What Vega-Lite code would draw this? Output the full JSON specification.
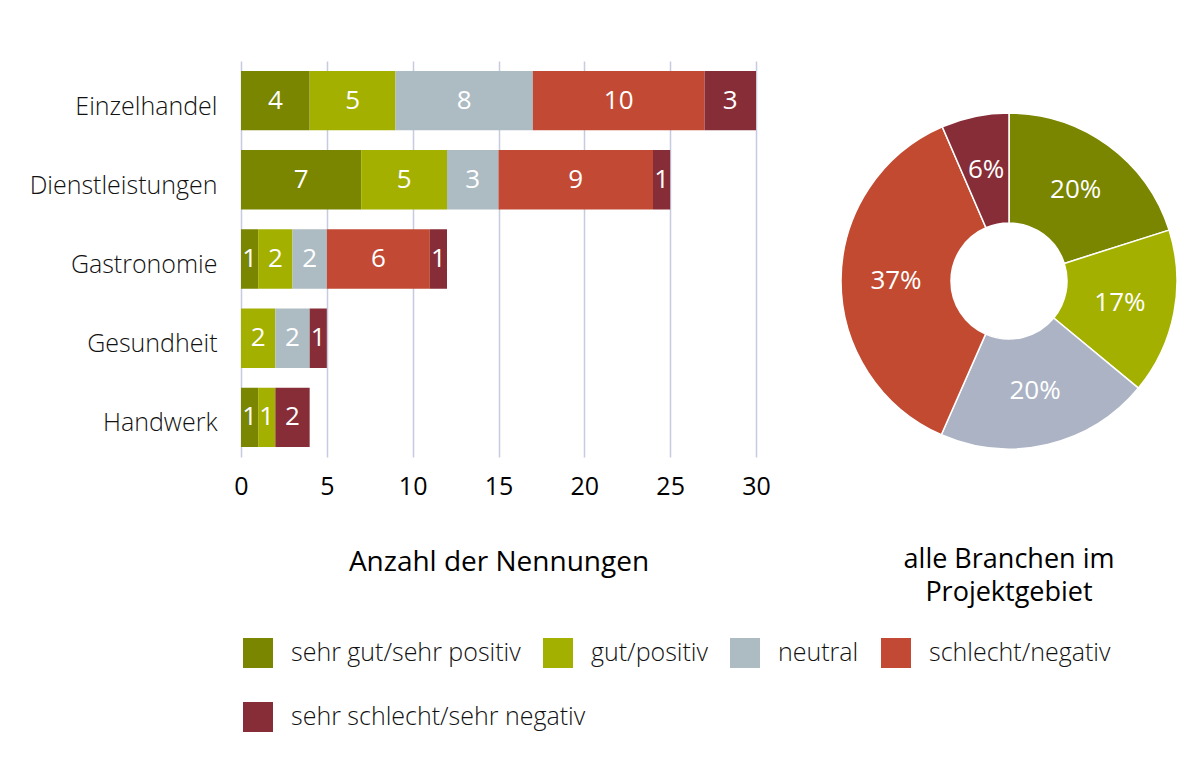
{
  "$schema": "https://vega.github.io/schema/vega-lite/v6.json",
  "padding": {"left": 25, "top": 61, "right": 0, "bottom": 0},
  "background": "white",
  "config": {
    "font": "Open Sans",
    "view": {"stroke": null},
    "legend": {"padding": 0}
  },
  "datasets": {
    "bars": [
      {"branche": "Einzelhandel", "kategorie": "sehr gut/sehr positiv", "k": 1, "n": 4},
      {"branche": "Einzelhandel", "kategorie": "gut/positiv", "k": 2, "n": 5},
      {"branche": "Einzelhandel", "kategorie": "neutral", "k": 3, "n": 8},
      {"branche": "Einzelhandel", "kategorie": "schlecht/negativ", "k": 4, "n": 10},
      {"branche": "Einzelhandel", "kategorie": "sehr schlecht/sehr negativ", "k": 5, "n": 3},
      {"branche": "Dienstleistungen", "kategorie": "sehr gut/sehr positiv", "k": 1, "n": 7},
      {"branche": "Dienstleistungen", "kategorie": "gut/positiv", "k": 2, "n": 5},
      {"branche": "Dienstleistungen", "kategorie": "neutral", "k": 3, "n": 3},
      {"branche": "Dienstleistungen", "kategorie": "schlecht/negativ", "k": 4, "n": 9},
      {"branche": "Dienstleistungen", "kategorie": "sehr schlecht/sehr negativ", "k": 5, "n": 1},
      {"branche": "Gastronomie", "kategorie": "sehr gut/sehr positiv", "k": 1, "n": 1},
      {"branche": "Gastronomie", "kategorie": "gut/positiv", "k": 2, "n": 2},
      {"branche": "Gastronomie", "kategorie": "neutral", "k": 3, "n": 2},
      {"branche": "Gastronomie", "kategorie": "schlecht/negativ", "k": 4, "n": 6},
      {"branche": "Gastronomie", "kategorie": "sehr schlecht/sehr negativ", "k": 5, "n": 1},
      {"branche": "Gesundheit", "kategorie": "gut/positiv", "k": 2, "n": 2},
      {"branche": "Gesundheit", "kategorie": "neutral", "k": 3, "n": 2},
      {"branche": "Gesundheit", "kategorie": "sehr schlecht/sehr negativ", "k": 5, "n": 1},
      {"branche": "Handwerk", "kategorie": "sehr gut/sehr positiv", "k": 1, "n": 1},
      {"branche": "Handwerk", "kategorie": "gut/positiv", "k": 2, "n": 1},
      {"branche": "Handwerk", "kategorie": "sehr schlecht/sehr negativ", "k": 5, "n": 2}
    ],
    "pie": [
      {"kat": "sehr gut/sehr positiv", "k": 1, "anteil": 20.1, "label": "20%"},
      {"kat": "gut/positiv", "k": 2, "anteil": 15.9, "label": "17%"},
      {"kat": "neutral", "k": 3, "anteil": 20.6, "label": "20%"},
      {"kat": "schlecht/negativ", "k": 4, "anteil": 36.9, "label": "37%"},
      {"kat": "sehr schlecht/sehr negativ", "k": 5, "anteil": 6.5, "label": "6%"}
    ]
  },
  "spacing": 67,
  "resolve": {"scale": {"color": "shared", "fill": "shared"}, "legend": {"color": "shared", "fill": "shared"}},
  "hconcat": [
    {
      "width": 515,
      "height": 396,
      "data": {"name": "bars"},
      "encoding": {
        "y": {
          "field": "branche",
          "type": "nominal",
          "sort": ["Einzelhandel", "Dienstleistungen", "Gastronomie", "Gesundheit", "Handwerk"],
          "scale": {"paddingInner": 0.25, "paddingOuter": 0.125},
          "axis": {
            "title": null,
            "ticks": false,
            "domain": false,
            "labelFontSize": 25,
            "labelFontWeight": 300,
            "labelColor": "#111111",
            "labelPadding": 24,
            "labelOffset": 6,
            "labelLimit": 260,
            "minExtent": 216,
            "maxExtent": 216
          }
        }
      },
      "layer": [
        {
          "mark": {"type": "bar"},
          "encoding": {
            "x": {
              "field": "n",
              "type": "quantitative",
              "stack": "zero",
              "scale": {"domain": [0, 30], "nice": false},
              "axis": {
                "values": [0, 5, 10, 15, 20, 25, 30],
                "grid": true,
                "gridColor": "#c7cbe0",
                "gridWidth": 1.5,
                "domain": false,
                "ticks": false,
                "labelFlush": false,
                "labelFontSize": 25,
                "labelFontWeight": 500,
                "labelColor": "#000000",
                "labelPadding": 17,
                "title": "Anzahl der Nennungen",
                "titleFontSize": 28,
                "titleFontWeight": 500,
                "titleColor": "#000000",
                "titlePadding": 49
              }
            },
            "color": {
              "field": "kategorie",
              "type": "nominal",
              "scale": {
                "domain": ["sehr gut/sehr positiv", "gut/positiv", "neutral", "schlecht/negativ", "sehr schlecht/sehr negativ"],
                "range": ["#7a8500", "#a4b000", "#adbbc3", "#c24a35", "#872d37"]
              },
              "legend": {
                "title": null,
                "values": ["sehr gut/sehr positiv", "gut/positiv", "neutral", "schlecht/negativ"],
                "orient": "none",
                "legendX": 2,
                "legendY": 577,
                "direction": "horizontal",
                "symbolType": "square",
                "symbolSize": 900,
                "symbolStrokeWidth": 0,
                "labelFontSize": 25,
                "labelFontWeight": 300,
                "labelColor": "#111111",
                "labelOffset": 18,
                "labelLimit": 400,
                "columnPadding": 22
              }
            },
            "order": {"field": "k", "type": "quantitative"}
          }
        },
        {
          "mark": {"type": "text", "color": "white", "fontSize": 26, "fontWeight": 500, "baseline": "middle", "align": "center"},
          "encoding": {
            "x": {"field": "n", "type": "quantitative", "stack": "zero", "bandPosition": 0.5},
            "text": {"field": "n", "type": "quantitative"},
            "order": {"field": "k", "type": "quantitative"}
          }
        }
      ]
    },
    {
      "width": 340,
      "height": 440,
      "data": {"name": "pie"},
      "title": {
        "text": ["alle Branchen im", "Projektgebiet"],
        "orient": "bottom",
        "fontSize": 27,
        "fontWeight": 500,
        "color": "#000000",
        "lineHeight": 33,
        "offset": 46
      },
      "encoding": {
        "theta": {"field": "anteil", "type": "quantitative", "stack": true},
        "order": {"field": "k", "type": "quantitative"}
      },
      "layer": [
        {
          "mark": {"type": "arc", "innerRadius": 58, "outerRadius": 168, "stroke": "white", "strokeWidth": 1.5},
          "encoding": {
            "fill": {
              "field": "kat",
              "type": "nominal",
              "scale": {
                "domain": ["sehr schlecht/sehr negativ", "sehr gut/sehr positiv", "gut/positiv", "neutral", "schlecht/negativ"],
                "range": ["#872d37", "#7a8500", "#a4b000", "#abb3c5", "#c24a31"]
              },
              "legend": {
                "title": null,
                "values": ["sehr schlecht/sehr negativ"],
                "orient": "none",
                "legendX": 2,
                "legendY": 641,
                "symbolType": "square",
                "symbolSize": 900,
                "symbolStrokeWidth": 0,
                "labelFontSize": 25,
                "labelFontWeight": 300,
                "labelColor": "#111111",
                "labelOffset": 18,
                "labelLimit": 400
              }
            }
          }
        },
        {
          "mark": {"type": "text", "radius": 113, "color": "white", "fontSize": 26, "fontWeight": 500, "baseline": "middle", "align": "center"},
          "encoding": {
            "text": {"field": "label", "type": "nominal"}
          }
        }
      ]
    }
  ]
}
